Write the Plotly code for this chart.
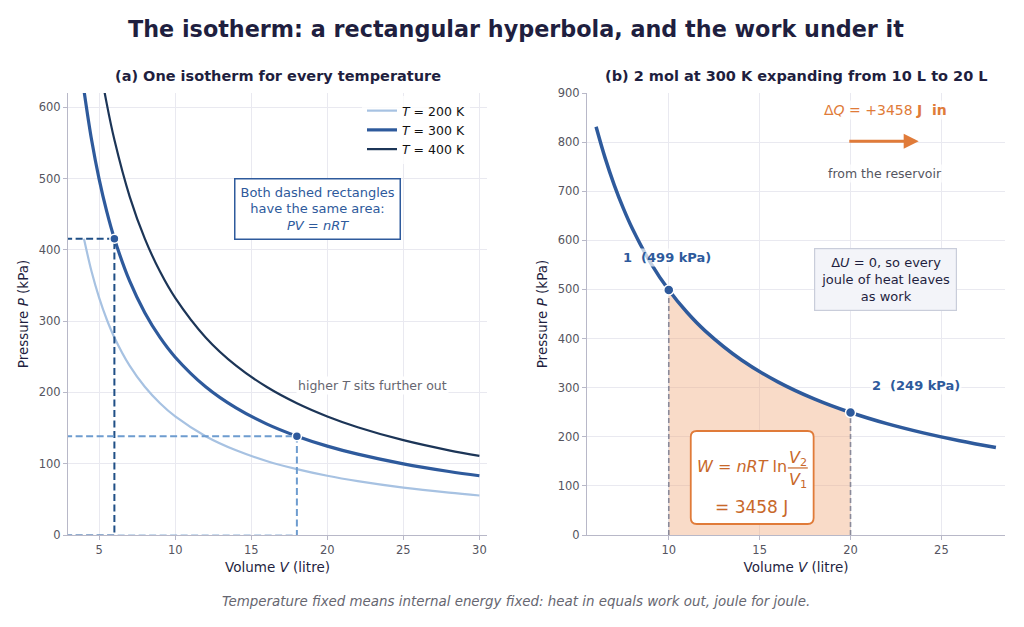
import plotly.graph_objects as go

# ---------------- data ----------------
temps_K = [200, 300, 400]
V_left = [4, 4.5, 5, 5.5, 6, 7, 8, 9, 10, 12, 14, 16, 18, 20, 22, 25, 28, 30]
P_200 = [415.7, 369.5, 332.6, 302.3, 277.1, 237.5, 207.9, 184.8, 166.3, 138.6,
         118.8, 103.9, 92.4, 83.1, 75.6, 66.5, 59.4, 55.4]
P_300 = [623.6, 554.3, 498.8, 453.5, 415.7, 356.3, 311.8, 277.1, 249.4, 207.9,
         178.2, 155.9, 138.6, 124.7, 113.4, 99.8, 89.1, 83.1]
P_400 = [831.4, 739.0, 665.1, 604.7, 554.3, 475.1, 415.7, 369.5, 332.6, 277.1,
         237.5, 207.9, 184.8, 166.3, 151.2, 133.0, 118.8, 110.9]
rect_V = [6, 18]
rect_P = [415.7, 138.6]

V_right = [6, 6.5, 7, 7.5, 8, 9, 10, 11, 12, 14, 16, 18, 20, 22, 24, 26, 28]
P_right = [831.4, 767.4, 712.6, 665.1, 623.6, 554.3, 498.8, 453.5, 415.7, 356.3,
           311.8, 277.1, 249.4, 226.7, 207.9, 191.9, 178.2]
V_fill = [10, 11, 12, 14, 16, 18, 20]
P_fill = [498.8, 453.5, 415.7, 356.3, 311.8, 277.1, 249.4]
state_V = [10, 20]
state_P = [498.8, 249.4]
work_J = 3458

# ---------------- style ----------------
FONT = "DejaVu Sans"
DARK = "#1f1f3f"
C200 = "#a7c2e2"
C300 = "#2e5a9c"
C400 = "#1c3557"
ORANGE = "#e07b39"
ORTXT = "#c8682a"
GRID = "#e9e9f0"
SPINE = "#b8b8c8"
TICK = "#555560"

W, H, OFF = 1024, 627, 8  # page renders with an 8px body offset


def px(x):
    return (x - OFF) / W


def py(y):
    return 1 - (y - OFF) / H


fig = go.Figure()

# left panel curves
for T, P, col, w in [(200, P_200, C200, 2.2), (300, P_300, C300, 3.2), (400, P_400, C400, 2.2)]:
    fig.add_trace(go.Scatter(x=V_left, y=P, mode="lines", line=dict(color=col, width=w, shape="spline"),
                             name=f"<i>T</i> = {T} K", xaxis="x", yaxis="y"))

# dashed rectangles
for v, p, col in [(rect_V[0], rect_P[0], "#1f4f86"), (rect_V[1], rect_P[1], "#6d9ccf")]:
    fig.add_trace(go.Scatter(x=[0, v, v], y=[p, p, 0], mode="lines",
                             line=dict(color=col, width=2, dash="7px,3.5px"),
                             showlegend=False, xaxis="x", yaxis="y", hoverinfo="skip"))
    fig.add_trace(go.Scatter(x=[0, v], y=[0, 0], mode="lines",
                             line=dict(color=col, width=1.5, dash="7px,3.5px"), opacity=0.5,
                             showlegend=False, xaxis="x", yaxis="y", hoverinfo="skip"))
fig.add_trace(go.Scatter(x=rect_V, y=rect_P, mode="markers",
                         marker=dict(color=C300, size=9, line=dict(color="white", width=1.5)),
                         showlegend=False, xaxis="x", yaxis="y"))

# right panel
fig.add_trace(go.Scatter(x=V_fill, y=P_fill, mode="lines", line=dict(width=0, shape="spline"),
                         fill="tozeroy", fillcolor="rgba(240,170,125,0.42)",
                         showlegend=False, xaxis="x2", yaxis="y2", hoverinfo="skip"))
for v, p in zip(state_V, state_P):
    fig.add_trace(go.Scatter(x=[v, v], y=[0, p], mode="lines",
                             line=dict(color="#8a8a9a", width=1.6, dash="5px,3px"),
                             showlegend=False, xaxis="x2", yaxis="y2", hoverinfo="skip"))
fig.add_trace(go.Scatter(x=V_right, y=P_right, mode="lines", line=dict(color=C300, width=3.5, shape="spline"),
                         showlegend=False, xaxis="x2", yaxis="y2"))
fig.add_trace(go.Scatter(x=state_V, y=state_P, mode="markers",
                         marker=dict(color=C300, size=10, line=dict(color="white", width=1.5)),
                         showlegend=False, xaxis="x2", yaxis="y2"))

axis_common = dict(showgrid=True, gridcolor=GRID, gridwidth=1, zeroline=False,
                   showline=True, linecolor=SPINE, linewidth=1.2, ticks="outside",
                   tickcolor=SPINE, ticklen=4, tickfont=dict(family=FONT, size=11.5, color=TICK),
                   mirror=False, automargin=False)
xtitle = dict(text="Volume <i>V</i> (litre)", font=dict(size=13.5, color=DARK), standoff=6)
ytitle = dict(text="Pressure <i>P</i> (kPa)", font=dict(size=13.5, color=DARK), standoff=6)

ydom = [py(535), py(93)]
fig.update_layout(
    width=W, height=H,
    margin=dict(l=0, r=0, t=0, b=0, autoexpand=False),
    paper_bgcolor="white", plot_bgcolor="white",
    font=dict(family=FONT, color=DARK),
    xaxis=dict(domain=[px(68), px(487)], range=[2.95, 30.5], tickvals=[5, 10, 15, 20, 25, 30],
               title=xtitle, anchor="y", **axis_common),
    yaxis=dict(domain=ydom, range=[0, 620], tickvals=[0, 100, 200, 300, 400, 500, 600],
               title=ytitle, anchor="x", **axis_common),
    xaxis2=dict(domain=[px(587), px(1005)], range=[5.5, 28.5], tickvals=[10, 15, 20, 25],
                title=xtitle, anchor="y2", **axis_common),
    yaxis2=dict(domain=ydom, range=[0, 900], tickvals=[0, 100, 200, 300, 400, 500, 600, 700, 800, 900],
                title=ytitle, anchor="x2", **axis_common),
    legend=dict(x=px(362), y=py(96), xanchor="left", yanchor="top", bgcolor="rgba(255,255,255,0.8)",
                font=dict(family=FONT, size=12.5, color="#111"), tracegroupgap=0, itemwidth=30),
    showlegend=True,
)

# rounded box for the work formula (right panel, data coords)
bx0, bx1, by0, by1 = 11.21, 17.97, 22.4, 211.8
rx, ry = 0.33, 12.2
box_path = (f"M {bx0+rx},{by0} L {bx1-rx},{by0} Q {bx1},{by0} {bx1},{by0+ry} "
            f"L {bx1},{by1-ry} Q {bx1},{by1} {bx1-rx},{by1} L {bx0+rx},{by1} "
            f"Q {bx0},{by1} {bx0},{by1-ry} L {bx0},{by0+ry} Q {bx0},{by0} {bx0+rx},{by0} Z")
fig.add_shape(type="path", path=box_path, xref="x2", yref="y2",
              line=dict(color=ORANGE, width=1.8), fillcolor="white", layer="above")
fig.add_shape(type="line", x0=16.55, x1=17.65, y0=136.5, y1=136.5, xref="x2", yref="y2",
              line=dict(color=ORTXT, width=1.2), layer="above")

ann = []
ann.append(dict(text="<b>The isotherm: a rectangular hyperbola, and the work under it</b>",
                x=px(516), y=py(29), xref="paper", yref="paper", showarrow=False,
                font=dict(size=22.3, color=DARK), xanchor="center", yanchor="middle"))
ann.append(dict(text="<b>(a) One isotherm for every temperature</b>",
                x=px(277.5), y=py(76), xref="paper", yref="paper", showarrow=False,
                font=dict(size=14.5, color=DARK), xanchor="center", yanchor="middle"))
ann.append(dict(text="<b>(b) 2 mol at 300 K expanding from 10 L to 20 L</b>",
                x=px(796), y=py(76), xref="paper", yref="paper", showarrow=False,
                font=dict(size=14.5, color=DARK), xanchor="center", yanchor="middle"))
ann.append(dict(text="<i>Temperature fixed means internal energy fixed: heat in equals work out, joule for joule.</i>",
                x=px(516), y=py(601), xref="paper", yref="paper", showarrow=False,
                font=dict(size=13.4, color="#666670"), xanchor="center", yanchor="middle"))
ann.append(dict(text="Both dashed rectangles<br>have the same area:<br><i>PV</i> = <i>nRT</i>",
                x=19.35, y=457, xref="x", yref="y", showarrow=False,
                font=dict(size=13, color=C300), bgcolor="white", bordercolor=C300, borderwidth=1.5,
                borderpad=5, align="center"))
ann.append(dict(text="higher <i>T</i> sits further out", x=22.95, y=210, xref="x", yref="y",
                showarrow=False, font=dict(size=12.5, color="#666670"), bgcolor="white"))
ann.append(dict(text=f"<b>1  ({state_P[0]:.0f} kPa)</b>", x=9.9, y=566, xref="x2", yref="y2",
                showarrow=False, font=dict(size=13, color=C300), bgcolor="rgba(255,255,255,0.7)"))
ann.append(dict(text=f"<b>2  ({state_P[1]:.0f} kPa)</b>", x=23.6, y=305, xref="x2", yref="y2",
                showarrow=False, font=dict(size=13, color=C300), bgcolor="rgba(255,255,255,0.7)"))
ann.append(dict(text=f"Δ<i>Q</i> = +{work_J} <b>J  in</b>", x=21.9, y=866, xref="x2", yref="y2",
                showarrow=False, font=dict(size=14, color=ORANGE), bgcolor="rgba(255,255,255,0.7)"))
ann.append(dict(text="", x=23.75, y=802, ax=19.85, ay=802, xref="x2", yref="y2", axref="x2", ayref="y2",
                showarrow=True, arrowhead=2, arrowsize=1, arrowwidth=3, arrowcolor=ORANGE))
ann.append(dict(text="from the reservoir", x=21.9, y=737, xref="x2", yref="y2",
                showarrow=False, font=dict(size=12.5, color="#555560"), bgcolor="rgba(255,255,255,0.7)"))
ann.append(dict(text="Δ<i>U</i> = 0, so every<br>joule of heat leaves<br>as work", x=21.9, y=521,
                xref="x2", yref="y2", showarrow=False, font=dict(size=13, color=DARK),
                bgcolor="#f3f4f9", bordercolor="#c9cdda", borderwidth=1.2, borderpad=6, align="center"))
# work formula pieces
ann.append(dict(text="<i>W</i> = <i>nRT</i> ln", x=16.6, y=139, xref="x2", yref="y2",
                xanchor="right", showarrow=False, font=dict(size=16, color=ORTXT)))
ann.append(dict(text="<i>V</i><sub>2</sub>", x=17.1, y=156, xref="x2", yref="y2",
                yanchor="middle", showarrow=False, font=dict(size=16, color=ORTXT)))
ann.append(dict(text="<i>V</i><sub>1</sub>", x=17.1, y=112, xref="x2", yref="y2",
                yanchor="middle", showarrow=False, font=dict(size=16, color=ORTXT)))
ann.append(dict(text=f"= {work_J} J", x=14.56, y=57, xref="x2", yref="y2",
                showarrow=False, font=dict(size=17, color=ORTXT)))
fig.update_layout(annotations=ann)

fig.write_html("out.html")
